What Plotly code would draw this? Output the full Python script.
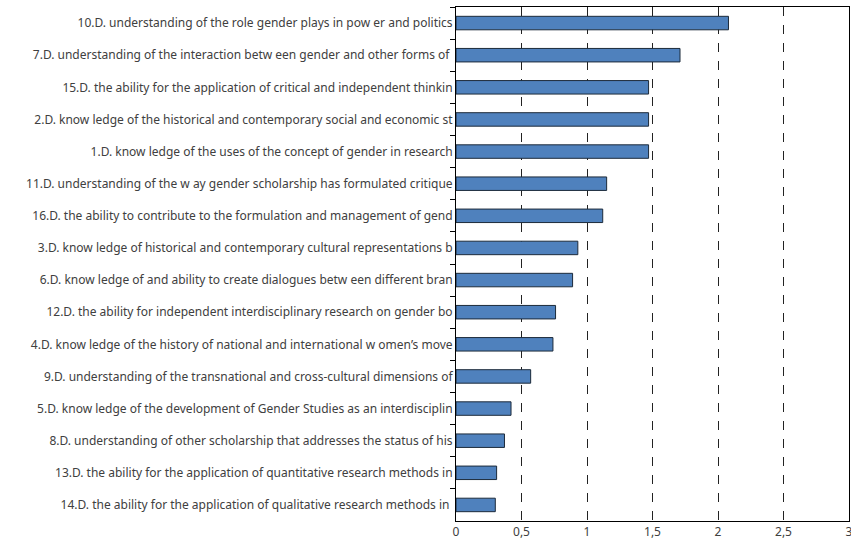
import plotly.graph_objects as go

# Items (top to bottom) and mean values
labels = [
    "10.D. understanding of the role gender plays in pow er and politics",
    "7.D. understanding of the interaction betw een gender and other forms of\u00a0",
    "15.D. the ability for the application of critical and independent thinkin",
    "2.D. know ledge of the historical and contemporary social and economic st",
    "1.D. know ledge of the uses of the concept of gender in research",
    "11.D. understanding of the w ay gender scholarship has formulated critique",
    "16.D. the ability to contribute to the formulation and management of gend",
    "3.D. know ledge of historical and contemporary cultural representations b",
    "6.D. know ledge of and ability to create dialogues betw een different bran",
    "12.D. the ability for independent interdisciplinary research on gender bo",
    "4.D. know ledge of the history of national and international w omen\u2019s move",
    "9.D. understanding of the transnational and cross-cultural dimensions of",
    "5.D. know ledge of the development of Gender Studies as an interdisciplin",
    "8.D. understanding of other scholarship that addresses the status of his",
    "13.D. the ability for the application of quantitative research methods in",
    "14.D. the ability for the application of qualitative research methods in\u00a0",
]
values = [2.08, 1.71, 1.47, 1.47, 1.47, 1.15, 1.12, 0.93, 0.89, 0.76, 0.74,
          0.57, 0.42, 0.37, 0.31, 0.30]

tick_vals = [0, 0.5, 1, 1.5, 2, 2.5, 3]
tick_text = ["0", "0,5", "1", "1,5", "2", "2,5", "3"]

fig = go.Figure()
fig.add_trace(go.Bar(
    x=values,
    y=labels,
    orientation="h",
    marker=dict(color="#4F81BD", line=dict(color="#1c2a3a", width=1)),
    width=0.42,
))

fig.update_layout(
    width=851,
    height=546,
    margin=dict(l=456, r=2, t=7, b=25, autoexpand=False),
    plot_bgcolor="white",
    paper_bgcolor="white",
    font=dict(family="Noto Sans", size=12, color="#404040"),
    showlegend=False,
)
fig.update_xaxes(
    range=[0, 3],
    tickvals=tick_vals,
    ticktext=tick_text,
    ticklabeloverflow="allow",
    showgrid=True,
    gridcolor="#222222",
    griddash="dash",
    gridwidth=1,
    showline=True,
    linecolor="black",
    linewidth=1,
    mirror=True,
    zeroline=False,
    ticks="",
    automargin=False,
)
fig.update_yaxes(
    autorange="reversed",
    showline=True,
    linecolor="black",
    linewidth=1,
    mirror=True,
    ticks="outside",
    tickson="boundaries",
    ticklen=5,
    tickcolor="black",
    showgrid=False,
    automargin=False,
)

# drop the default page margin so the figure sits at the window's corner
fig.write_html("out.html", config={"displayModeBar": False},
               post_script="document.body.style.margin='0';")
